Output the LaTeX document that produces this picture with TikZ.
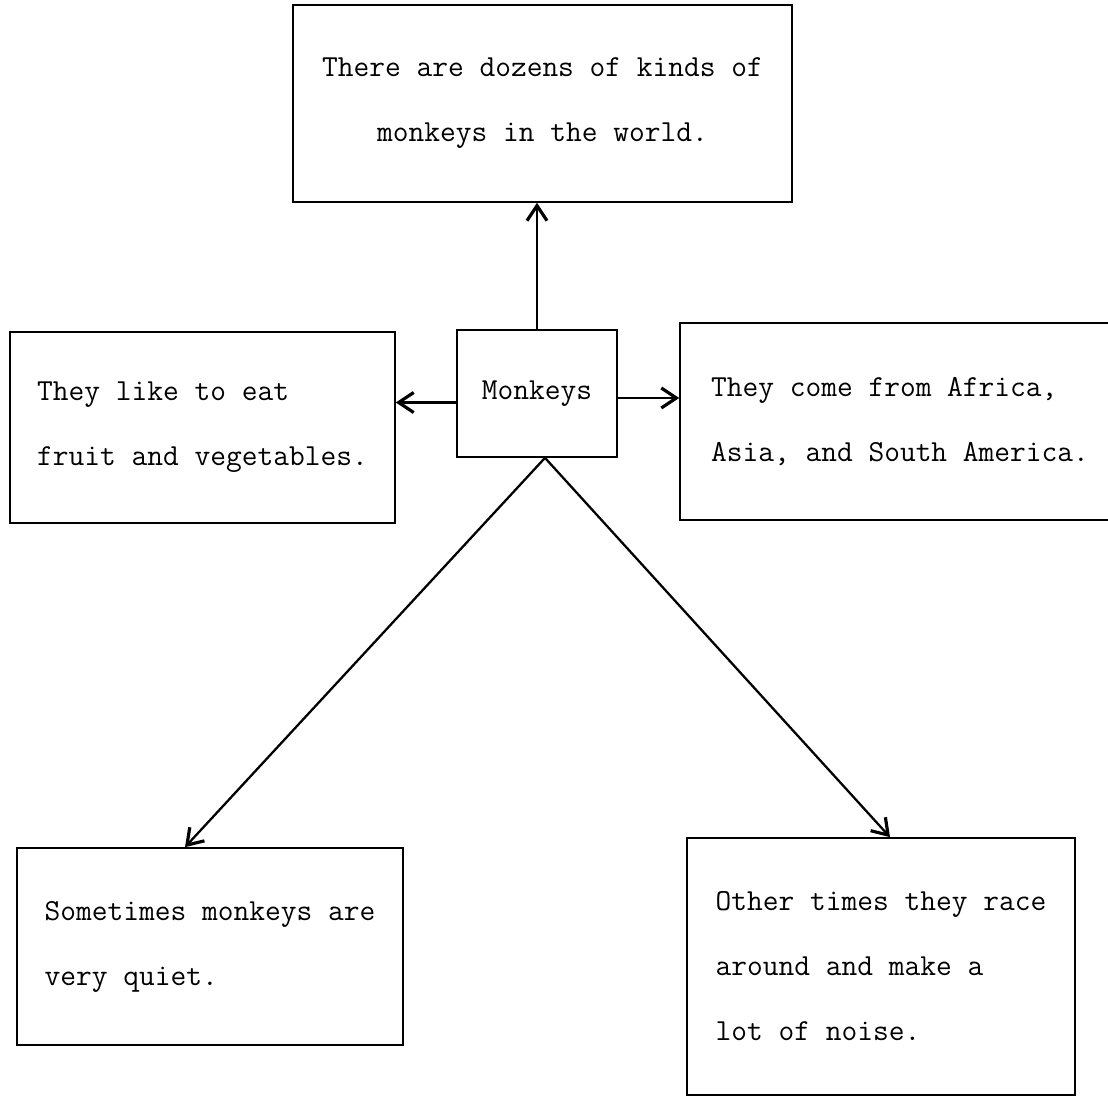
\documentclass[tikz,border=0pt]{standalone}
\usepackage{fontspec}
\usetikzlibrary{arrows.meta}

\begin{document}
\begin{tikzpicture}[x=0.02cm, y=-0.02cm,
  box/.style={rectangle, draw, line width=1pt, align=left,
    font=\ttfamily\fontsize{17.4pt}{37pt}\selectfont},
  link/.style={line width=1.3pt, -{Straight Barb[length=3mm, width=4mm, line width=1.8pt]}}]
  \useasboundingbox (0,0) rectangle (1108,1098);
  \node (kinds) [box, align=center, minimum width=9.98cm, minimum height=3.94cm] at (542.5,103.5)
    {There are dozens of kinds of\\monkeys in the world.};
  \node (monkeys) [box, minimum width=3.2cm, minimum height=2.54cm] at (537,393.5) {Monkeys};
  \node (eat) [box, minimum width=7.7cm, minimum height=3.82cm] at (202.5,427.5)
    {They like to eat\\fruit and vegetables.};
  \node (come) [box, minimum width=8.8cm, minimum height=3.94cm] at (900,421.5)
    {They come from Africa,\\Asia, and South America.};
  \node (quiet) [box, minimum width=7.72cm, minimum height=3.94cm] at (210,946.5)
    {Sometimes monkeys are\\very quiet.};
  \node (noise) [box, minimum width=7.76cm, minimum height=5.14cm] at (881,966.5)
    {Other times they race\\around and make a\\lot of noise.};
  \draw[link] (monkeys.north) -- (monkeys.north |- kinds.south);
  \draw[link] ([yshift=-0.18cm]monkeys.west) -- ([yshift=-0.18cm]monkeys.west -| eat.east);
  \draw[link] ([yshift=-0.09cm]monkeys.east) -- ([yshift=-0.09cm]monkeys.east -| come.west);
  \draw[link] ([xshift=0.16cm]monkeys.south) -- ([xshift=-0.5cm]quiet.north);
  \draw[link] ([xshift=0.16cm]monkeys.south) -- ([xshift=0.18cm]noise.north);
\end{tikzpicture}
\end{document}
